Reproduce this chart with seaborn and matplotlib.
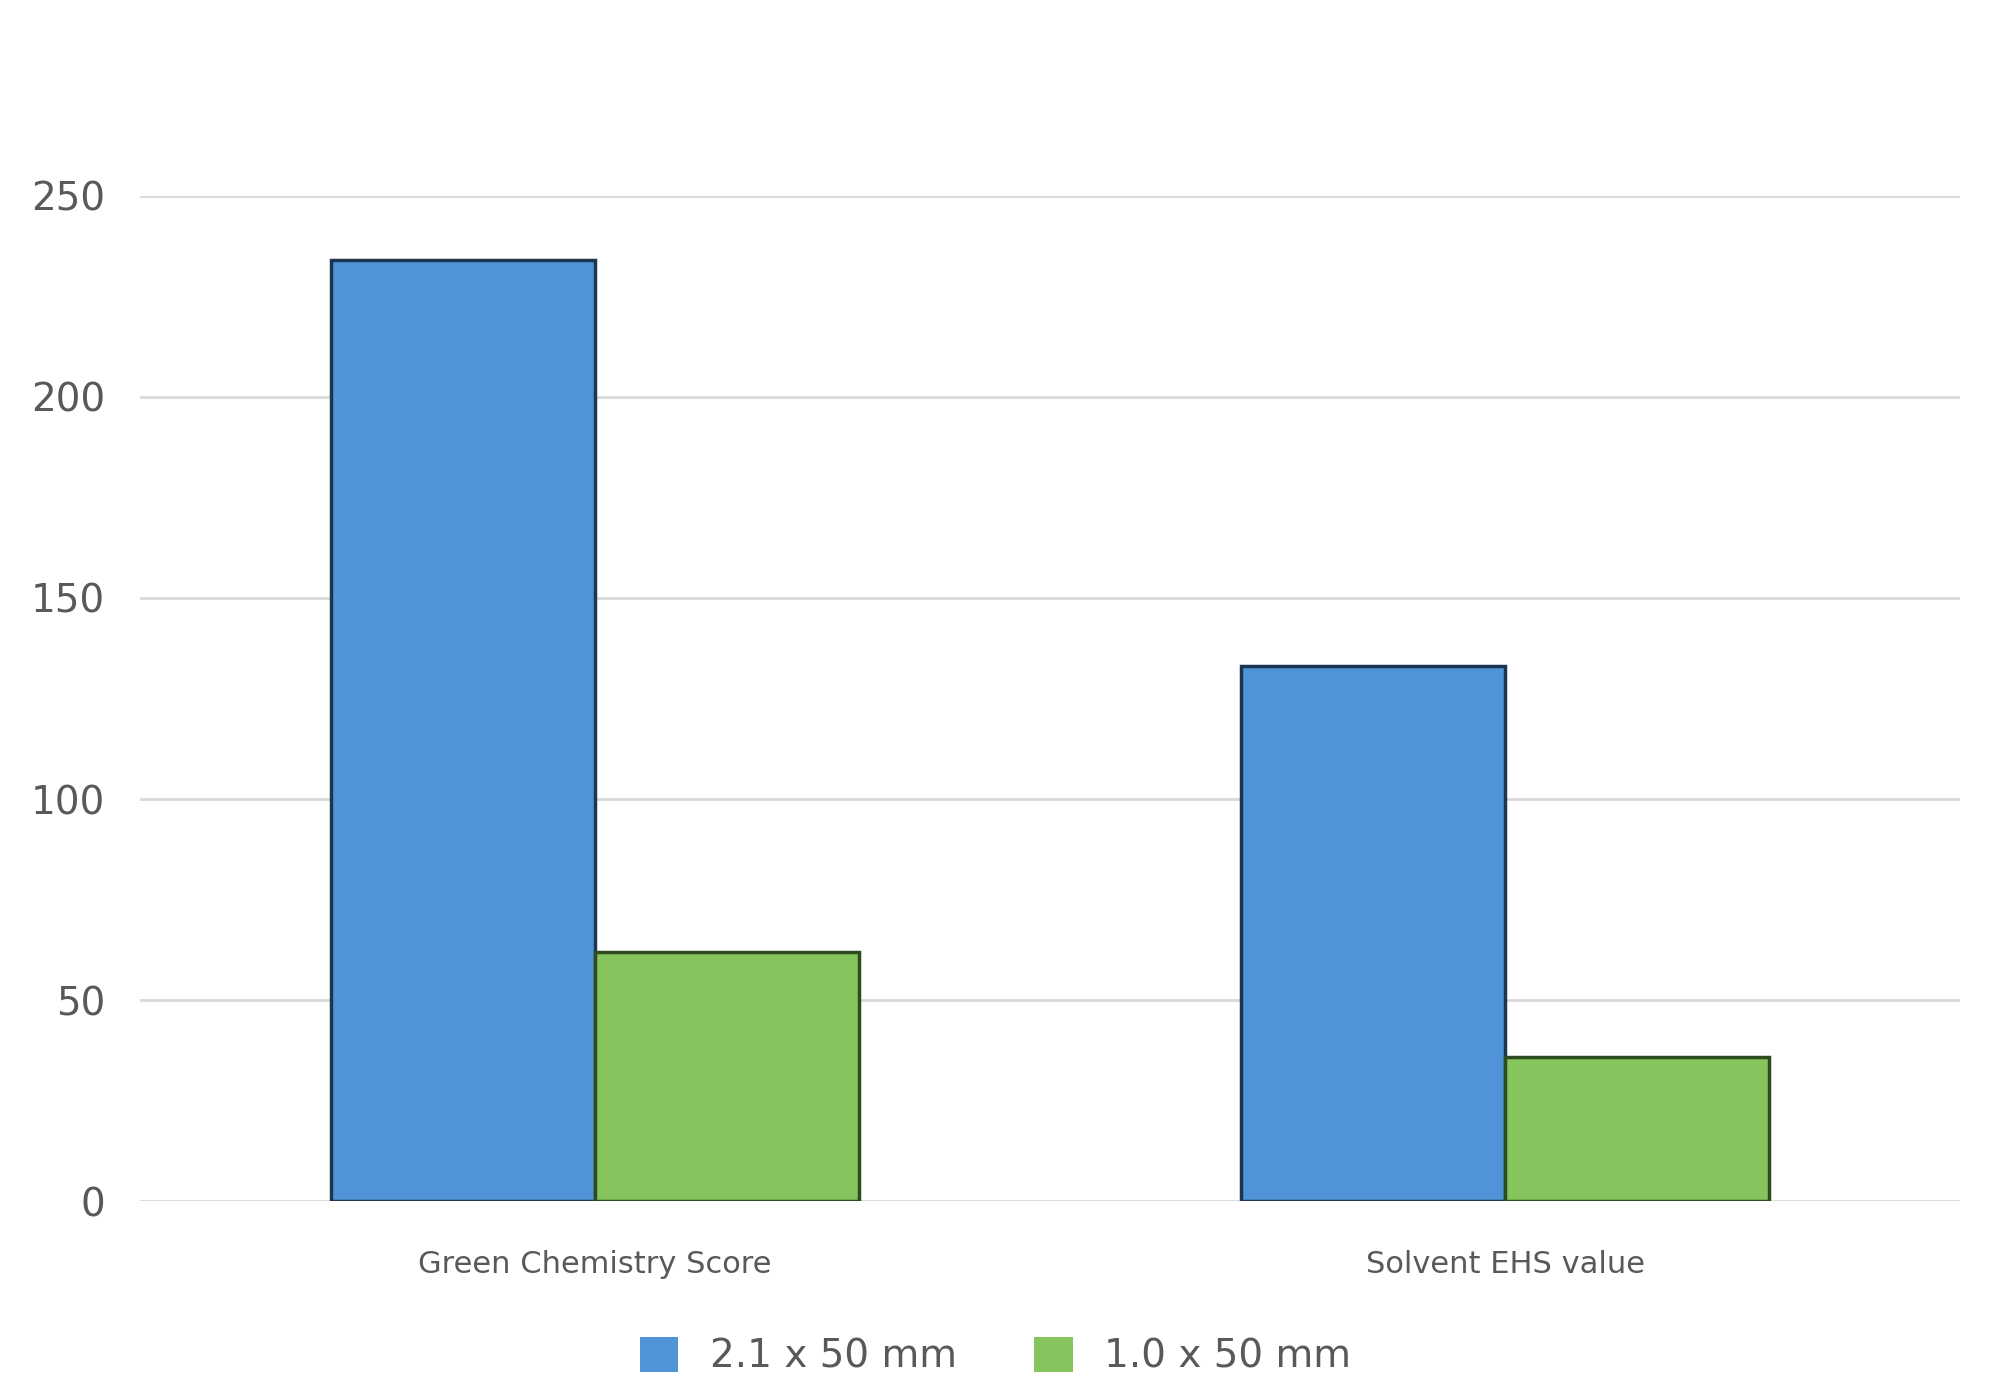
import matplotlib
matplotlib.use("Agg")
import matplotlib.pyplot as plt
import seaborn as sns
import pandas as pd

categories = ["Green Chemistry Score", "Solvent EHS value"]
series = ["2.1 x 50 mm", "1.0 x 50 mm"]
values_21 = [234, 133]
values_10 = [62, 36]
colors = ["#4F94D6", "#86C45E"]

df = pd.DataFrame({
    "Category": categories * 2,
    "Series": [series[0]] * 2 + [series[1]] * 2,
    "Value": values_21 + values_10,
})

sns.set_theme(style="white")
plt.rcParams['font.family'] = ['DejaVu Sans']
fig, ax = plt.subplots(figsize=(20, 13.97), dpi=100)
sns.barplot(data=df, x="Category", y="Value", hue="Series", palette=colors,
            saturation=1, ax=ax, width=0.58, linewidth=0, zorder=3)
for p, c in zip(ax.patches[:4], [colors[0]] * 2 + [colors[1]] * 2):
    p.set_edgecolor("#1c3550" if c == colors[0] else "#2e4a1f")
    p.set_linewidth(2.5)
ax.set_ylim(0, 250)
ax.set_yticks(range(0, 251, 50))
ax.yaxis.grid(True, color="#d9d9d9", linewidth=2, zorder=0)
ax.set_xlabel("")
ax.set_ylabel("")
ax.tick_params(axis="y", labelsize=28, colors="#595959", length=0, pad=25)
ax.tick_params(axis="x", labelsize=22, colors="#595959", length=0, pad=35)
sns.despine(ax=ax, left=True, bottom=True)
ax.legend(loc="upper center", bbox_to_anchor=(0.47, -0.1), ncol=2, frameon=False,
          fontsize=28, labelcolor="#595959", handlelength=1, handleheight=1, columnspacing=2)
fig.subplots_adjust(left=0.07, right=0.98, top=0.86, bottom=0.14)
fig.savefig("out.png", dpi=100, facecolor="white")
